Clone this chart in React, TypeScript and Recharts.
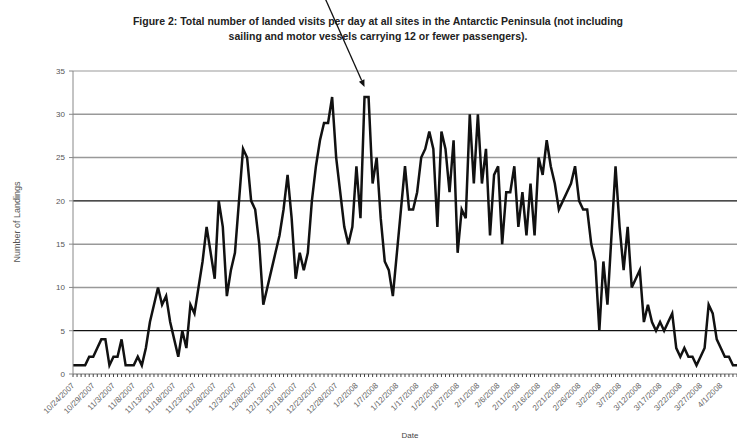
import { LineChart, Line, XAxis, YAxis, ReferenceLine, ReferenceDot } from "recharts";

// ---------------------------------------------------------------------------
// Data (one value per day)
// ---------------------------------------------------------------------------
const firstDay = { year: 2007, month: 10, day: 24 };

const landings = [
  1, 1, 1, 1, 2, 2, 3, 4, 4, 1,
  2, 2, 4, 1, 1, 1, 2, 1, 3, 6,
  8, 10, 8, 9, 6, 4, 2, 5, 3, 8,
  7, 10, 13, 17, 14, 11, 20, 17, 9, 12,
  14, 20, 26, 25, 20, 19, 15, 8, 10, 12,
  14, 16, 19, 23, 18, 11, 14, 12, 14, 20,
  24, 27, 29, 29, 32, 25, 21, 17, 15, 17,
  24, 18, 32, 32, 22, 25, 18, 13, 12, 9,
  14, 19, 24, 19, 19, 21, 25, 26, 28, 26,
  17, 28, 26, 21, 27, 14, 19, 18, 30, 22,
  30, 22, 26, 16, 23, 24, 15, 21, 21, 24,
  17, 21, 16, 22, 16, 25, 23, 27, 24, 22,
  19, 20, 21, 22, 24, 20, 19, 19, 15, 13,
  5, 13, 8, 16, 24, 17, 12, 17, 10, 11,
  12, 6, 8, 6, 5, 6, 5, 6, 7, 3,
  2, 3, 2, 2, 1, 2, 3, 8, 7, 4,
  3, 2, 2, 1, 1,
];

// consecutive days, M/D/YYYY like the original Excel axis
const dates = landings.map((_, i) => {
  const d = new Date(Date.UTC(firstDay.year, firstDay.month - 1, firstDay.day + i));
  return `${d.getUTCMonth() + 1}/${d.getUTCDate()}/${d.getUTCFullYear()}`;
});

const yTicks = [0, 5, 10, 15, 20, 25, 30, 35];
const darkGridValues = [20, 5];
const labelEvery = 5;
const arrowAt = { index: 72, value: 32 };

const titleLines = [
  "Figure 2: Total number of landed visits per day at all sites in the Antarctic Peninsula (not including",
  "sailing and motor vessels carrying 12 or fewer passengers).",
];

const chartData = dates.map((date, i) => ({ date, landings: landings[i] }));

const FONT = "Arial, 'Liberation Sans', sans-serif";

// ---------------------------------------------------------------------------
// Rotated date tick (only every 5th day gets text, every day gets a tick mark)
// ---------------------------------------------------------------------------
function DateTick(props: { x?: number; y?: number; index?: number; payload?: { value: string } }) {
  const { x = 0, y = 0, index = 0, payload } = props;
  if (index % labelEvery !== 0) return null;
  return (
    <g transform={`translate(${x + 2},${y + 7})`}>
      <text
        x={0}
        y={0}
        textAnchor="end"
        fontSize={8}
        fontFamily={FONT}
        fill="#666"
        transform="rotate(-45)"
      >
        {payload?.value}
      </text>
    </g>
  );
}

// ---------------------------------------------------------------------------
// Annotation arrow pointing at the season peak
// ---------------------------------------------------------------------------
function PeakArrow(props: { cx?: number; cy?: number }) {
  const { cx = 0, cy = 0 } = props;
  const tipX = cx;
  const tipY = cy - 10;
  const tailX = tipX - 40;
  const tailY = tipY - 90;
  const len = Math.hypot(tipX - tailX, tipY - tailY);
  const ux = (tipX - tailX) / len;
  const uy = (tipY - tailY) / len;
  const headL = 7;
  const headW = 3;
  const bx = tipX - ux * headL;
  const by = tipY - uy * headL;
  return (
    <g>
      <line x1={tailX} y1={tailY} x2={bx} y2={by} stroke="#111" strokeWidth={1.3} />
      <polygon
        points={`${tipX},${tipY} ${bx - uy * headW},${by + ux * headW} ${bx + uy * headW},${by - ux * headW}`}
        fill="#111"
      />
    </g>
  );
}

export default function App() {
  return (
    <div style={{ position: "relative", width: 737, height: 441, background: "#fff", fontFamily: FONT }}>
      <style>{`body{margin:0}`}</style>

      {/* Title */}
      <div
        style={{
          position: "absolute",
          left: 0,
          top: 14,
          width: 756,
          textAlign: "center",
          fontSize: 10.5,
          lineHeight: "15px",
          fontWeight: "bold",
          color: "#222",
        }}
      >
        {titleLines.map((t) => (
          <div key={t}>{t}</div>
        ))}
      </div>

      {/* Y axis title */}
      <div
        style={{
          position: "absolute",
          left: 17,
          top: 222,
          transform: "translate(-50%,-50%) rotate(-90deg)",
          fontSize: 9,
          color: "#555",
          whiteSpace: "nowrap",
        }}
      >
        Number of Landings
      </div>

      {/* X axis title */}
      <div
        style={{
          position: "absolute",
          left: 410,
          top: 431,
          transform: "translateX(-50%)",
          fontSize: 8,
          color: "#444",
        }}
      >
        Date
      </div>

      <div style={{ position: "absolute", left: 0, top: 0 }}>
        <LineChart width={737} height={441} data={chartData} margin={{ top: 71, right: 0, bottom: 0, left: 0 }}>
          {yTicks
            .filter((v) => v > 0)
            .map((v) => (
              <ReferenceLine
                key={v}
                y={v}
                stroke={darkGridValues.includes(v) ? "#111" : v === 35 ? "#bbb" : "#999"}
                strokeWidth={darkGridValues.includes(v) ? 1.3 : 1.5}
              />
            ))}
          <XAxis
            dataKey="date"
            interval={0}
            height={67}
            tick={DateTick as never}
            tickSize={3}
            tickLine={{ stroke: "#444" }}
            axisLine={{ stroke: "#777" }}
          />
          <YAxis
            width={73}
            domain={[0, 35]}
            ticks={yTicks}
            tickSize={4}
            tickMargin={4}
            tick={{ fontSize: 8, fill: "#555", fontFamily: FONT }}
            axisLine={{ stroke: "#888" }}
            tickLine={{ stroke: "#888" }}
          />
          <Line
            type="linear"
            dataKey="landings"
            stroke="#111"
            strokeWidth={2.5}
            dot={false}
            isAnimationActive={false}
          />
          <ReferenceDot
            x={dates[arrowAt.index]}
            y={arrowAt.value}
            shape={PeakArrow as never}
          />
        </LineChart>
      </div>
    </div>
  );
}
